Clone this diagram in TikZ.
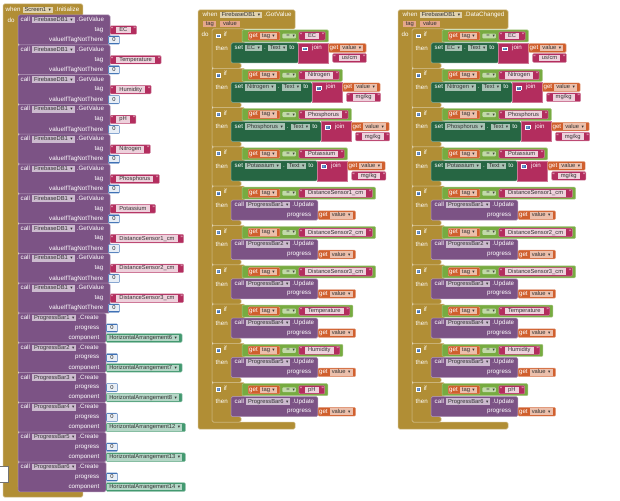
\documentclass[tikz,border=0pt]{standalone}
\usepackage{amsmath,amssymb}
\usepackage{fontspec}
\setmainfont{Liberation Sans}
\newfontfamily\arrfont{DejaVu Sans}
\usetikzlibrary{calc}

\definecolor{evgold}{HTML}{B18E35}
\definecolor{callpurple}{HTML}{7C5385}
\definecolor{setgreen}{HTML}{266643}
\definecolor{txtred}{HTML}{B32D5E}
\definecolor{mathblue}{HTML}{3F71B5}
\definecolor{logicgreen}{HTML}{77AB41}
\definecolor{vargold}{HTML}{D05F2D}
\definecolor{compgreen}{HTML}{439970}

\pgfdeclarelayer{blocks}
\pgfsetlayers{blocks,main}

\newcommand{\blkfont}{\fontsize{6.2}{7}\selectfont}
\newcommand{\fldfont}{\fontsize{5.8}{6.5}\selectfont}
\newcommand{\dnarr}{{\arrfont\fontsize{4.6}{5}\selectfont ▾}}
% dropdown field, string field, number field, event parameter
\newcommand{\fld}[2]{\hspace{2pt}{\setlength{\fboxsep}{0.6pt}\colorbox{#1!40!white}{\fldfont\textcolor{black!80}{\hspace{1.5pt}\vphantom{Ag}#2\hspace{2.5pt}\dnarr\hspace{1.5pt}}}}\hspace{2pt}}
\newcommand{\sfld}[1]{{\setlength{\fboxsep}{0.6pt}\colorbox{txtred!22!white}{\fldfont\textcolor{black!80}{\hspace{2.5pt}\vphantom{Ag}#1\hspace{2.5pt}}}}}
\newcommand{\nfld}[1]{{\setlength{\fboxsep}{0.6pt}\colorbox{mathblue!12!white}{\fldfont\textcolor{black!85}{\hspace{2.5pt}\vphantom{Ag}#1\hspace{2.5pt}}}}}
\newcommand{\prm}[1]{{\setlength{\fboxsep}{0.6pt}\colorbox{vargold!55!white}{\fldfont\textcolor{black!80}{\hspace{2pt}\vphantom{Ag}#1\hspace{2pt}}}}}
\newcommand{\qstr}[1]{“\hspace{3pt}\sfld{#1}\hspace{3pt}”}
\newcommand{\gearic}{{\setlength{\fboxsep}{0.4pt}\setlength{\fboxrule}{0.5pt}\fcolorbox{white}{mathblue}{\textcolor{white}{$\scriptscriptstyle\circledast$}}}}
\newcommand{\uscm}{us/cm}
\newcommand{\mgkg}{mg/kg}

% if tag = "..." then
\newcommand{\condblock}[4]{%
  \begin{pgfonlayer}{blocks}
    \draw[ctrl] (#1+14,#2-5) -- (#1+47,#2-5) -- (#1+47,#2+9) -- (#1+33,#2+9) -- (#1+33,#2+29)
      -- (#1+43,#2+29) -- (#1+43,#2+34.3) -- (#1+14,#2+34.3) -- cycle;
  \end{pgfonlayer}
  \node[lbl, anchor=west] (#3if) at (#1+17,#2+1) {\gearic\hspace{3pt}if};
  \node[lbl, anchor=west] (#3then) at (#1+17,#2+14) {then};
  \node[getblk] (#3tag) at (#1+50,#2+2) {get\fld{vargold}{tag}\hspace{-1.5pt}};
  \node[eqblk] (#3eq) at ([xshift=2pt]#3tag.east) {\fldfont\hspace{3pt}=\hspace{3pt}\dnarr\hspace{2pt}};
  \node[strblk] (#3str) at ([xshift=2.5pt]#3eq.east) {\qstr{#4}};
  \coordinate (#3ce) at ([xshift=3pt]#3str.east);
  \begin{pgfonlayer}{blocks}
    \draw[logicc] (#1+44,#2-4) rectangle (#3ce |- 0,#2+8);
  \end{pgfonlayer}
}
% set X.Text to join(get value, unit)
\newcommand{\setpart}[5]{%
  \node[lbl, anchor=west] (#3set) at (#1+36,#2+14) {set\fld{setgreen}{#4}.\fld{setgreen}{Text}to};
  \coordinate (#3se) at ([xshift=3pt]#3set.east);
  \node[lbl, anchor=west] (#3join) at ([xshift=3pt]#3se) {\gearic\hspace{5pt}join};
  \coordinate (#3je) at ([xshift=6pt]#3join.east);
  \node[getblk] (#3val) at (#3je) {get\fld{vargold}{value}\hspace{-1.5pt}};
  \coordinate (#3ue) at (#3je |- 0,#2+24);
  \node[strblk] (#3unit) at ([xshift=4pt]#3ue) {\qstr{#5}};
  \begin{pgfonlayer}{blocks}
    \draw[setc] (#1+33,#2+9) rectangle (#3se |- 0,#2+29);
    \draw[txtc] (#3se |- 0,#2+9) rectangle (#3je |- 0,#2+29);
  \end{pgfonlayer}
}
% call ProgressBarN.Update progress get value
\newcommand{\callpart}[4]{%
  \node[lbl, anchor=west] (#3call) at (#1+36,#2+14) {call\fld{callpurple}{ProgressBar#4}.Update};
  \coordinate (#3ke) at ([xshift=3pt]#3call.east);
  \coordinate (#3pe) at (#3ke |- 0,#2+24);
  \node[lbl, anchor=east] (#3prog) at ([xshift=-6pt]#3pe) {progress};
  \node[getblk] (#3val) at (#3pe) {get\fld{vargold}{value}\hspace{-1.5pt}};
  \begin{pgfonlayer}{blocks}
    \draw[callc] (#1+33,#2+9) rectangle (#3ke |- 0,#2+29);
  \end{pgfonlayer}
}

\begin{document}
\begin{tikzpicture}[x=1pt, y=-1pt, font=\blkfont,
    lbl/.style={text=white, inner sep=0.5pt},
    evt/.style={fill=evgold, draw=evgold!60!white, line width=0.5pt, rounded corners=1.5pt},
    ctrl/.style={fill=evgold, draw=evgold!60!white, line width=0.5pt, rounded corners=1.5pt},
    callc/.style={fill=callpurple, draw=callpurple!65!white, line width=0.5pt, rounded corners=1.5pt},
    setc/.style={fill=setgreen, draw=setgreen!65!white, line width=0.5pt, rounded corners=1.5pt},
    logicc/.style={fill=logicgreen, draw=logicgreen!65!white, line width=0.5pt, rounded corners=1pt},
    txtc/.style={fill=txtred, draw=txtred!65!white, line width=0.5pt},
    strblk/.style={anchor=west, fill=txtred, draw=txtred!60!white, text=white, inner sep=1pt, rounded corners=1pt},
    numblk/.style={anchor=west, fill=mathblue, draw=mathblue!60!white, inner sep=1pt, rounded corners=1pt},
    getblk/.style={anchor=west, fill=vargold, draw=vargold!60!white, text=white, inner sep=1pt, rounded corners=1pt},
    compblk/.style={anchor=west, fill=compgreen, draw=compgreen!60!white, inner sep=1pt, rounded corners=1pt},
    eqblk/.style={anchor=west, fill=logicgreen!45!white, text=black!75, inner sep=1pt, rounded corners=1pt}]
  \useasboundingbox (0,0) rectangle (620,500);
  \begin{pgfonlayer}{blocks}
    \fill[white] (0,0) rectangle (620,500);
  \end{pgfonlayer}
  % ---------------- when Screen1.Initialize ----------------
  \node[lbl, anchor=west] (ini) at (5,10) {when\fld{evgold}{Screen1}.Initialize};
  \coordinate (iniE) at ([xshift=3pt]ini.east);
  \begin{pgfonlayer}{blocks}
    \draw[evt] (3,4) -- (iniE |- 0,4) -- (iniE |- 0,16) -- (18,16) -- (18,488) -- (iniE |- 0,488)
      -- (iniE |- 0,497) -- (3,497) -- cycle;
  \end{pgfonlayer}
  \node[lbl, anchor=west] (inido) at (7,20) {do};
  \foreach \tg [count=\kk from 0] in {EC,Temperature,Humidity,pH,Nitrogen,Phosphorus,Potassium,
      DistanceSensor1\_cm,DistanceSensor2\_cm,DistanceSensor3\_cm} {
    \pgfmathsetmacro\ty{15+29.8*\kk}
    \begin{pgfonlayer}{blocks}
      \draw[callc] (18,\ty) rectangle (110,\ty+29.8);
    \end{pgfonlayer}
    \node[lbl, anchor=west] (gv\kk) at (20,\ty+5) {call\fld{callpurple}{FirebaseDB1}.GetValue};
    \node[lbl, anchor=east] (gvt\kk) at (104,\ty+15) {tag};
    \node[lbl, anchor=east] (gvv\kk) at (104,\ty+25) {valueIfTagNotThere};
    \node[strblk] (gvs\kk) at (110,\ty+15) {\qstr{\tg}};
    \node[numblk] (gvn\kk) at (108,\ty+25) {\nfld{0}};
  }
  \foreach \pb/\ha [count=\kk from 0] in {1/6,2/7,3/8,4/12,5/13,6/14} {
    \pgfmathsetmacro\ty{313+29.8*\kk}
    \begin{pgfonlayer}{blocks}
      \draw[callc] (18,\ty) rectangle (106,\ty+29.8);
    \end{pgfonlayer}
    \node[lbl, anchor=west] (cr\kk) at (20,\ty+5) {call\fld{callpurple}{ProgressBar\pb}.Create};
    \node[lbl, anchor=east] (crp\kk) at (100,\ty+15) {progress};
    \node[lbl, anchor=east] (crc\kk) at (100,\ty+25) {component};
    \node[numblk] (crn\kk) at (106,\ty+15) {\nfld{0}};
    \node[compblk] (crh\kk) at (106,\ty+25) {\hspace{-2pt}\fld{compgreen}{HorizontalArrangement\ha}\hspace{-2pt}};
  }
  % ---------------- FirebaseDB1.GotValue / .DataChanged ----------------
  \foreach \ox/\cid/\evn in {198/m/GotValue, 398/r/DataChanged} {
    \node[lbl, anchor=west] (\cid ev) at (\ox+4,15) {when\fld{evgold}{FirebaseDB1}.\evn};
    \coordinate (\cid evE) at ([xshift=3pt]\cid ev.east);
    \begin{pgfonlayer}{blocks}
      \draw[evt] (\ox,10) -- (\cid evE |- 0,10) -- (\cid evE |- 0,29) -- (\ox+14,29) -- (\ox+14,422)
        -- (\cid evE |- 0,422) -- (\cid evE |- 0,429) -- (\ox,429) -- cycle;
    \end{pgfonlayer}
    \node[anchor=west, inner sep=0pt] (\cid par) at (\ox+5,24) {\prm{tag}\hspace{4pt}\prm{value}};
    \node[lbl, anchor=west] (\cid do) at (\ox+3,34) {do};
    \foreach \tg/\un [count=\kk from 0] in {EC/\uscm, Nitrogen/\mgkg, Phosphorus/\mgkg, Potassium/\mgkg} {
      \pgfmathsetmacro\cy{34+39.3*\kk}
      \condblock{\ox}{\cy}{\cid\kk}{\tg}
      \setpart{\ox}{\cy}{\cid\kk}{\tg}{\un}
    }
    \foreach \tg [count=\kk from 4] in {DistanceSensor1\_cm,DistanceSensor2\_cm,DistanceSensor3\_cm,
        Temperature,Humidity,pH} {
      \pgfmathsetmacro\cy{34+39.3*\kk}
      \pgfmathtruncatemacro\pb{\kk-3}
      \condblock{\ox}{\cy}{\cid\kk}{\tg}
      \callpart{\ox}{\cy}{\cid\kk}{\pb}
    }
  }
  % workspace corner box
  \draw[black!55, fill=white] (-1,466) rectangle (8,482);
\end{tikzpicture}
\end{document}
